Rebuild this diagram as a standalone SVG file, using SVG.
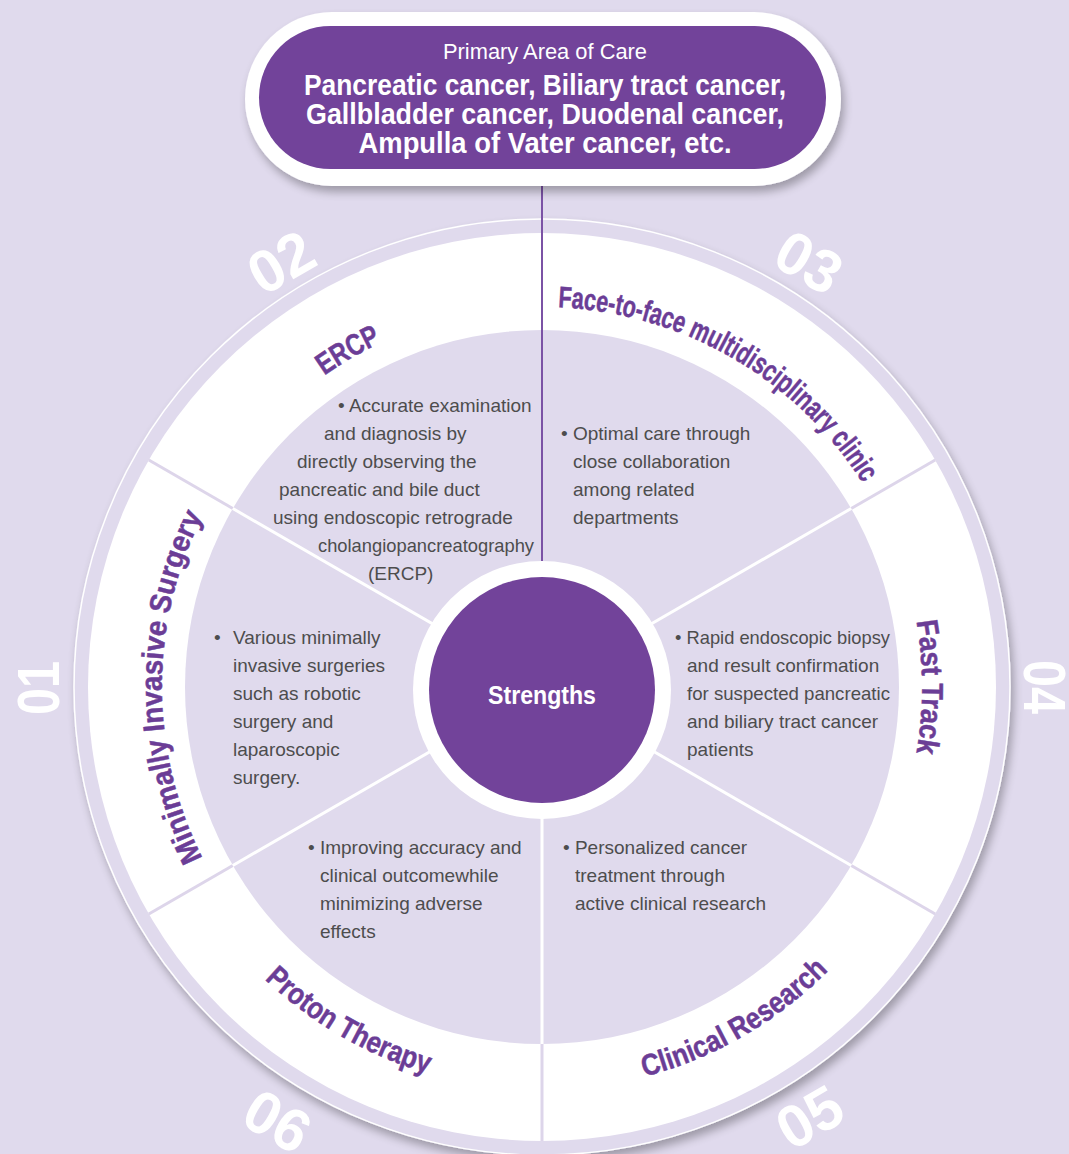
<svg xmlns="http://www.w3.org/2000/svg" width="1069" height="1154" viewBox="0 0 1069 1154">
<defs>
<style>
.bg{fill:#e0daed}
.title{font-family:"Liberation Sans",Arial,sans-serif;font-weight:bold;font-size:30px;fill:#6b3d96;stroke:#6b3d96;stroke-width:0.5}
.num{font-family:"Liberation Sans",Arial,sans-serif;font-weight:bold;font-size:60px;fill:#ffffff;text-anchor:middle}
.body{font-family:"Liberation Sans",Arial,sans-serif;font-size:19px;fill:#4d4d4d}
.pillt{font-family:"Liberation Sans",Arial,sans-serif;fill:#ffffff;text-anchor:middle}
.div-in{stroke:#ffffff;stroke-width:3}
.div-band{stroke:#ddd5ea;stroke-width:3}
</style>
<filter id="sh" x="-10%" y="-10%" width="130%" height="140%">
<feGaussianBlur in="SourceAlpha" stdDeviation="5"/>
<feOffset dx="3" dy="6"/>
<feComponentTransfer><feFuncA type="linear" slope="0.3"/></feComponentTransfer>
<feMerge><feMergeNode/><feMergeNode in="SourceGraphic"/></feMerge>
</filter>
<path id="p01" d="M412,1044.1 A380,380 0 0 1 412,329.9"/>
<path id="p02" d="M167.8,753 A380,380 0 0 1 786.3,395.9"/>
<path id="p03" d="M297.7,395.9 A380,380 0 0 1 916.2,753"/>
<path id="p04" d="M672,329.9 A380,380 0 0 1 672,1044.1"/>
<path id="p05" d="M283,995.7 A403,403 0 0 0 938.9,617"/>
<path id="p06" d="M145.1,617 A403,403 0 0 0 801,995.7"/>
</defs>
<rect class="bg" x="0" y="0" width="1069" height="1154"/>

<g id="wheel">
<circle cx="542" cy="687" r="468" fill="#e0daed" stroke="#ffffff" stroke-width="1.5" filter="url(#sh)"/>
<circle cx="542" cy="687" r="454" fill="#ffffff"/>
<circle cx="542" cy="687" r="357" fill="#e0daed"/>
<line class="div-band" x1="851.2" y1="508.5" x2="935.2" y2="460"/>
<line class="div-band" x1="232.8" y1="508.5" x2="148.8" y2="460"/>
<line class="div-band" x1="232.8" y1="865.5" x2="148.8" y2="914"/>
<line class="div-band" x1="851.2" y1="865.5" x2="935.2" y2="914"/>
<line class="div-band" x1="542" y1="1044" x2="542" y2="1141"/>
<line class="div-in" x1="542" y1="687" x2="851.2" y2="508.5"/>
<line class="div-in" x1="542" y1="687" x2="232.8" y2="508.5"/>
<line class="div-in" x1="542" y1="687" x2="232.8" y2="865.5"/>
<line class="div-in" x1="542" y1="687" x2="851.2" y2="865.5"/>
<line class="div-in" x1="542" y1="687" x2="542" y2="1044"/>
</g>

<g id="connectors">
<line x1="542" y1="168" x2="542" y2="565" stroke="#7b52a5" stroke-width="2"/>
</g>

<g id="center">
<circle cx="542" cy="690" r="129" fill="#ffffff"/>
<circle cx="542" cy="690" r="113" fill="#72439a"/>
<text x="542" y="704" class="pillt" font-size="25" font-weight="bold" textLength="108" lengthAdjust="spacingAndGlyphs">Strengths</text>
</g>

<g id="primary-area">
<rect x="245" y="12" width="596" height="174" rx="87" fill="#ffffff" filter="url(#sh)"/>
<rect x="259" y="26" width="567" height="143" rx="71.5" fill="#72439a"/>
<text x="545" y="59" class="pillt" font-size="22" textLength="204" lengthAdjust="spacingAndGlyphs">Primary Area of Care</text>
<text x="545" y="95" class="pillt" font-size="30" font-weight="bold" textLength="482" lengthAdjust="spacingAndGlyphs">Pancreatic cancer, Biliary tract cancer,</text>
<text x="545" y="124" class="pillt" font-size="30" font-weight="bold" textLength="478" lengthAdjust="spacingAndGlyphs">Gallbladder cancer, Duodenal cancer,</text>
<text x="545" y="153" class="pillt" font-size="30" font-weight="bold" textLength="373" lengthAdjust="spacingAndGlyphs">Ampulla of Vater cancer, etc.</text>
</g>

<g id="sector-01">
<text class="num" transform="translate(38,688) rotate(-90)" y="21" textLength="54" lengthAdjust="spacingAndGlyphs">01</text>
<text class="title"><textPath href="#p01" startOffset="50%" text-anchor="middle" textLength="355" lengthAdjust="spacingAndGlyphs">Minimally Invasive Surgery</textPath></text>
<text class="body" x="214" y="644">•</text>
<text class="body" x="233" y="644">Various minimally</text>
<text class="body" x="233" y="672">invasive surgeries</text>
<text class="body" x="233" y="700">such as robotic</text>
<text class="body" x="233" y="728">surgery and</text>
<text class="body" x="233" y="756">laparoscopic</text>
<text class="body" x="233" y="784">surgery.</text>
</g>

<g id="sector-02">
<text class="num" transform="translate(281,262) rotate(-30)" y="21" textLength="66" lengthAdjust="spacingAndGlyphs">02</text>
<text class="title"><textPath href="#p02" startOffset="50%" text-anchor="middle" textLength="66" lengthAdjust="spacingAndGlyphs">ERCP</textPath></text>
<text class="body" x="338" y="412">• Accurate examination</text>
<text class="body" x="324" y="440">and diagnosis by</text>
<text class="body" x="297" y="468">directly observing the</text>
<text class="body" x="279" y="496">pancreatic and bile duct</text>
<text class="body" x="273" y="524">using endoscopic retrograde</text>
<text class="body" x="318" y="552" textLength="216" lengthAdjust="spacingAndGlyphs">cholangiopancreatography</text>
<text class="body" x="368" y="580">(ERCP)</text>
</g>

<g id="sector-03">
<text class="num" transform="translate(809,262) rotate(30)" y="21" textLength="66" lengthAdjust="spacingAndGlyphs">03</text>
<text class="title"><textPath href="#p03" startOffset="50%" text-anchor="middle" textLength="366" lengthAdjust="spacingAndGlyphs">Face-to-face multidisciplinary clinic</textPath></text>
<text class="body" x="561" y="440">• Optimal care through</text>
<text class="body" x="573" y="468">close collaboration</text>
<text class="body" x="573" y="496">among related</text>
<text class="body" x="573" y="524">departments</text>
</g>

<g id="sector-04">
<text class="num" transform="translate(1045,687) rotate(90)" y="21" textLength="54" lengthAdjust="spacingAndGlyphs">04</text>
<text class="title"><textPath href="#p04" startOffset="50%" text-anchor="middle" textLength="132" lengthAdjust="spacingAndGlyphs">Fast Track</textPath></text>
<text class="body" x="675" y="644" textLength="215" lengthAdjust="spacingAndGlyphs">• Rapid endoscopic biopsy</text>
<text class="body" x="687" y="672">and result confirmation</text>
<text class="body" x="687" y="700" textLength="203" lengthAdjust="spacingAndGlyphs">for suspected pancreatic</text>
<text class="body" x="687" y="728">and biliary tract cancer</text>
<text class="body" x="687" y="756">patients</text>
</g>

<g id="sector-05">
<text class="num" transform="translate(809.5,1117) rotate(-30)" y="21" textLength="66" lengthAdjust="spacingAndGlyphs">05</text>
<text class="title"><textPath href="#p05" startOffset="50%" text-anchor="middle" textLength="215" lengthAdjust="spacingAndGlyphs">Clinical Research</textPath></text>
<text class="body" x="563" y="854">• Personalized cancer</text>
<text class="body" x="575" y="882">treatment through</text>
<text class="body" x="575" y="910">active clinical research</text>
</g>

<g id="sector-06">
<text class="num" transform="translate(277.5,1121) rotate(30)" y="21" textLength="66" lengthAdjust="spacingAndGlyphs">06</text>
<text class="title"><textPath href="#p06" startOffset="50%" text-anchor="middle" textLength="190" lengthAdjust="spacingAndGlyphs">Proton Therapy</textPath></text>
<text class="body" x="308" y="854">• Improving accuracy and</text>
<text class="body" x="320" y="882">clinical outcomewhile</text>
<text class="body" x="320" y="910">minimizing adverse</text>
<text class="body" x="320" y="938">effects</text>
</g>
</svg>
